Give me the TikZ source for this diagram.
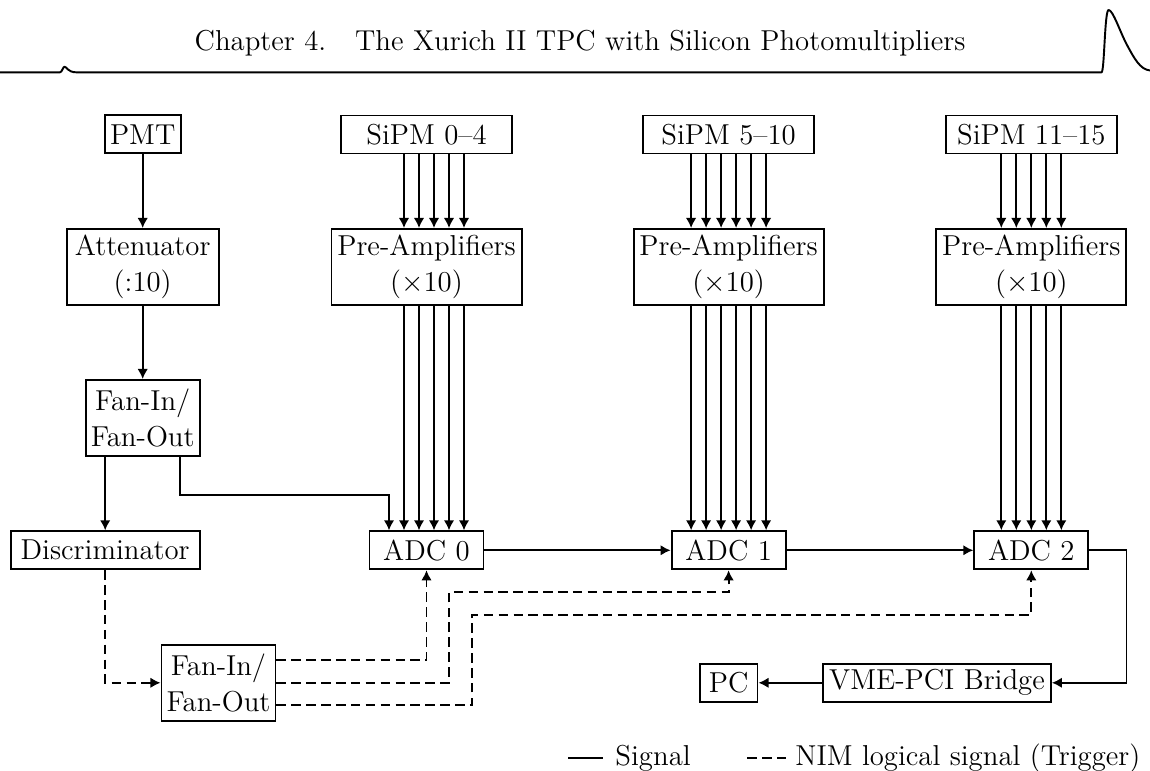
\documentclass[tikz,border=0pt]{standalone}
\usetikzlibrary{arrows.meta,calc}
\begin{document}
\begin{tikzpicture}[x=0.41667pt,y=-0.41667pt,
  font=\fontsize{12}{15}\selectfont,
  box/.style={draw, thick, inner sep=0pt, align=center, minimum height=15.83pt},
  tall/.style={minimum height=31.67pt},
  sig/.style={thick, -{Latex[length=4.2pt,width=4.4pt]}},
  trig/.style={sig, dash pattern=on 4pt off 2.2pt},
  plain/.style={thick}]
\useasboundingbox (0,0) rectangle (1150,771);

% header
\node[anchor=base, inner sep=0pt] (hdr) at (580,50.7) {Chapter 4.\quad The Xurich II TPC with Silicon Photomultipliers};
\draw[thick, line join=round] (0,72.3) -- (60,72.3)
  .. controls (62,72.3) and (63,66.7) .. (64.5,66.7)
  .. controls (66.5,66.7) and (68,72.3) .. (76,72.3)
  -- (1101.5,72.3)
  .. controls (1104.5,72.3) and (1104.5,10) .. (1108.6,10)
  .. controls (1113,10) and (1120,32) .. (1127,45)
  .. controls (1134,58) and (1140,69.5) .. (1150,70.5);

% nodes
\node[box, minimum width=31.75pt] (pmt) at (142.7,134.3) {PMT};
\node[box, minimum width=71.4pt] (sipm0) at (426.5,134.5) {SiPM 0--4};
\node[box, minimum width=71.4pt] (sipm1) at (728.6,134.5) {SiPM 5--10};
\node[box, minimum width=71.4pt] (sipm2) at (1031.3,134.5) {SiPM 11--15};

\node[box, tall, minimum width=63.3pt] (att) at (142.7,267) {Attenuator\\(:10)};
\node[box, tall, minimum width=79.2pt] (pre0) at (426.5,267) {Pre-Amplifiers\\($\times$10)};
\node[box, tall, minimum width=79.2pt] (pre1) at (728.6,267) {Pre-Amplifiers\\($\times$10)};
\node[box, tall, minimum width=79.2pt] (pre2) at (1031.3,267) {Pre-Amplifiers\\($\times$10)};

\node[box, tall, minimum width=47.5pt] (fan1) at (142.7,418) {Fan-In/\\Fan-Out};

\node[box, minimum width=78.75pt] (disc) at (105.2,550.3) {Discriminator};
\node[box, minimum width=47.5pt] (adc0) at (426.5,550.3) {ADC 0};
\node[box, minimum width=47.5pt] (adc1) at (728.6,550.3) {ADC 1};
\node[box, minimum width=47.5pt] (adc2) at (1031.3,550.3) {ADC 2};

\node[box, tall, minimum width=47.5pt] (fan2) at (218.5,682.8) {Fan-In/\\Fan-Out};
\node[box, minimum width=24pt] (pc) at (728.7,682.8) {PC};
\node[box, minimum width=94.9pt] (vme) at (937,682.8) {VME-PCI Bridge};

% PMT chain
\draw[sig] (pmt) -- (att);
\draw[sig] (att) -- (fan1);
\draw[sig] ($(fan1.south)+(-37.5,0)$) -- (disc.north);
\draw[sig] ($(fan1.south)+(37.6,0)$) -- ++(0,38) -| ($(adc0.north)+(-37.5,0)$);

% SiPM channels
\foreach \d in {-22.5,-7.5,7.5,22.5,37.5} {
  \draw[sig] ($(sipm0.south)+(\d,0)$) -- ($(pre0.north)+(\d,0)$);
  \draw[sig] ($(pre0.south)+(\d,0)$) -- ($(adc0.north)+(\d,0)$);
}
\foreach \d in {-37.5,-22.5,-7.5,7.5,22.5,37.5} {
  \draw[sig] ($(sipm1.south)+(\d,0)$) -- ($(pre1.north)+(\d,0)$);
  \draw[sig] ($(pre1.south)+(\d,0)$) -- ($(adc1.north)+(\d,0)$);
}
\foreach \d in {-30,-15,0,15,30} {
  \draw[sig] ($(sipm2.south)+(\d,0)$) -- ($(pre2.north)+(\d,0)$);
  \draw[sig] ($(pre2.south)+(\d,0)$) -- ($(adc2.north)+(\d,0)$);
}

% ADC chain
\draw[sig] (adc0) -- (adc1);
\draw[sig] (adc1) -- (adc2);
\draw[sig] (adc2.east) -- ++(37.2,0) |- (vme.east);
\draw[sig] (vme) -- (pc);

% trigger
\draw[trig] (disc.south) |- (fan2.west);
\draw[trig] ($(fan2.east)+(0,-22.6)$) -| (adc0.south);
\draw[trig] (fan2.east) -| (448.9,592.3) -| (adc1.south);
\draw[trig] ($(fan2.east)+(0,22.5)$) -| (471.9,615) -| (adc2.south);

% legend
\coordinate (l1a) at (568.3,758.3);
\coordinate (l1b) at (603,758.3);
\coordinate (l2a) at (747.4,758.3);
\coordinate (l2b) at (786.2,758.3);
\draw[plain] (l1a) -- (l1b);
\node[anchor=base west, inner sep=0pt] (lsig) at (615,765) {Signal};
\draw[plain, dash pattern=on 4pt off 2.2pt] (l2a) -- (l2b);
\node[anchor=base west, inner sep=0pt] (ltrig) at (795,765) {NIM logical signal (Trigger)};
\end{tikzpicture}
\end{document}
